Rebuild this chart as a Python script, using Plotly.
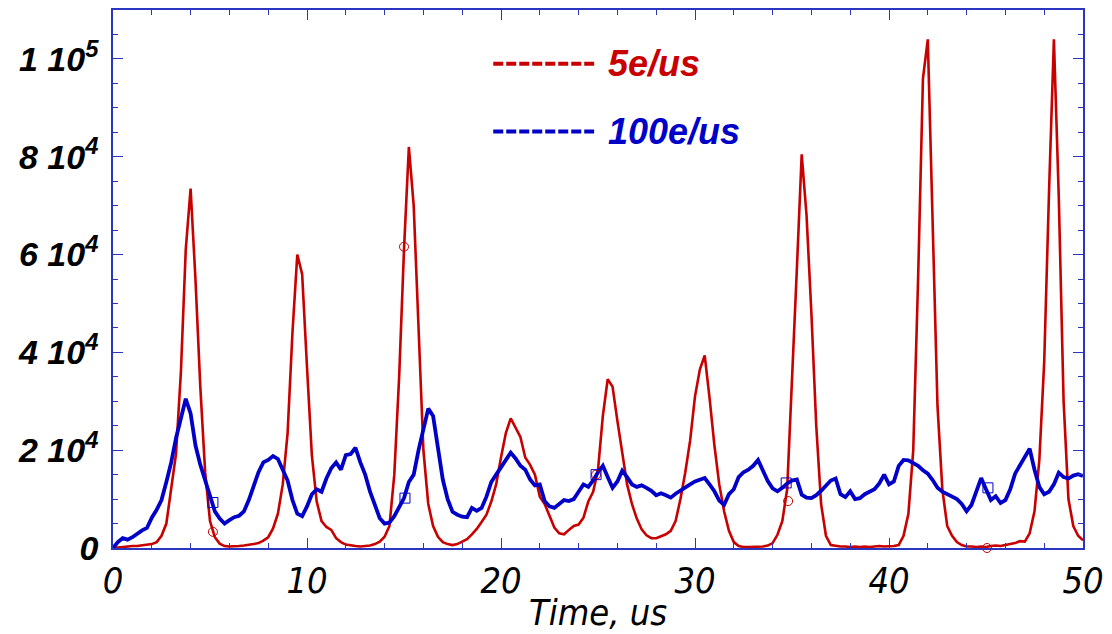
import plotly.graph_objects as go

# time grid (us), 0.25 us bins
time = [i * 0.25 for i in range(201)]

# 5e/us series, in units of 1000 counts
red_k = [
    0, 0.1, 0.3, 0.3,
    0.4, 0.4, 0.5, 0.6,
    0.8, 1.2, 2.5, 5.0,
    12.5, 19.3, 36, 61,
    73.5, 55, 33, 15.5,
    5.5, 2.2, 0.9, 0.4,
    0.3, 0.3, 0.4, 0.5,
    0.6, 0.8, 1.0, 1.5,
    2.2, 4.0, 7.0, 13,
    23.5, 44, 60, 56,
    37, 19, 9.5, 5.5,
    4.3, 3.7, 2.0, 1.2,
    0.7, 0.5, 0.4, 0.3,
    0.4, 0.5, 0.8, 1.3,
    2.3, 4.5, 15, 35,
    61, 82, 70, 45,
    20, 9, 4.5, 2.3,
    1.2, 0.8, 0.6, 0.8,
    1.3, 1.8, 2.8, 3.9,
    5.3, 6.8, 9.5, 13,
    18.5, 23.5, 26.5, 24.7,
    22.7, 18.5, 17, 15,
    10.5, 9, 6.5, 4.2,
    3.0, 2.8, 3.7, 4.5,
    4.8, 6.2, 9.5, 11.5,
    16, 27, 34.5, 33,
    26, 19, 13, 9,
    6, 3.8, 2.6, 2.0,
    2.0, 2.4, 2.8, 3.5,
    5.5, 10, 15.5, 22,
    31, 36.5, 39.4, 30.7,
    21, 13, 7.5, 3.5,
    1.2, 0.4, 0.2, 0.2,
    0.2, 0.2, 0.3, 0.5,
    1.0, 2.7, 5.5, 12,
    33, 57, 80.5, 68,
    48, 25, 9, 2.5,
    0.6, 0.4, 0.3, 0.3,
    0.2, 0.3, 0.2, 0.3,
    0.2, 0.3, 0.4, 0.3,
    0.3, 0.4, 0.6, 2.5,
    7, 20, 55, 96,
    104, 64, 29, 12,
    4.5, 2.5, 1.2, 0.6,
    0.3, 0.3, 0.2, 0.3,
    0.2, 0.4, 0.5, 0.4,
    0.6, 0.8, 1.0, 1.4,
    1.3, 3.0, 7.5, 18,
    38, 73, 104, 72,
    30, 10, 4.5, 2.5,
    1.6,
]

# 100e/us series, in units of 1000 counts
blue_k = [
    0, 1.2, 2.0, 1.7,
    2.2, 3.0, 3.6, 4.1,
    6.2, 7.8, 9.8, 13.5,
    17.5, 22.5, 26.5, 30.5,
    27.5, 21, 17, 14,
    11, 7.5, 6, 5,
    5.7, 6.3, 6.6, 7.5,
    9.8, 12.5, 15.5, 17.5,
    18, 18.8, 18.2, 16,
    13.8, 9.8, 7, 6.5,
    8.5, 11, 12, 11.5,
    14.2, 16.3, 17.5, 16,
    19, 19.2, 20.5, 17.5,
    15, 11.5, 8.5, 6.1,
    5, 5.2, 6.5, 8.5,
    10.2, 13.5, 15, 20,
    24, 28.5, 27, 20,
    14, 10, 7.4, 6.8,
    6.4, 6.3, 8.2, 7.6,
    8.2, 10.5, 13.5, 15,
    16.5, 18.3, 19.5, 18.3,
    16.8, 16, 14, 12.8,
    13, 9.6, 8.5, 8.2,
    9, 9.8, 9.6, 10,
    11.5, 13, 12.5, 13.8,
    15.5, 16.8, 14.5, 12.3,
    13.6, 15.8, 14.5, 13,
    12.5, 12.8, 12.3, 11.7,
    10.8, 11.2, 10.8, 10.3,
    11.1, 11.8, 12.5, 13,
    13.6, 13.9, 14.3, 13,
    11.6, 9.7, 8.8, 11,
    12, 14.5, 15.5, 16,
    16.8, 18, 15.6, 13.7,
    12.2, 11.6, 12.3, 13.2,
    13.8, 14, 10.9, 10.3,
    10.2, 10.8, 11.7, 12.7,
    13.8, 14.2, 11, 10.4,
    11.6, 10, 10.2, 11,
    11.4, 12, 13.2, 15,
    13, 13.6, 16.8, 18,
    17.9, 17.4, 16.8, 15.9,
    15.2, 13.9, 12.3, 11.5,
    11, 10.6, 10, 9,
    7.5, 8.8, 11.5, 14.3,
    12, 9.8, 10.6, 9.2,
    9.8, 12, 15.2, 17,
    18.5, 20.3, 16, 12.5,
    11, 11.5, 13, 15.4,
    14.5, 14.2, 14.8, 15.1,
    14.7,
]

# symbol markers
mark_red_t = [5.15, 15.0, 24.9, 34.8, 45.05]
mark_red_k = [3.3, 61.6, 15.0, 9.6, 0.0]
mark_blue_t = [5.15, 15.05, 24.9, 34.7, 45.1]
mark_blue_k = [9.3, 10.2, 15.0, 13.3, 12.3]

# axis ticks
x_ticks = [0, 10, 20, 30, 40, 50]
y_tickvals = [0, 20000, 40000, 60000, 80000, 100000]
y_ticktext = ["0", "2 10<sup>4</sup>", "4 10<sup>4</sup>", "6 10<sup>4</sup>",
              "8 10<sup>4</sup>", "1 10<sup>5</sup>"]
series_names = ["5e/us", "100e/us"]

RED = "#c80000"
BLUE = "#0000c8"
FRAME = "#2a35c0"
NARROW = "DejaVu Sans Condensed, Liberation Sans, sans-serif"

def counts(lst):
    return [v * 1000 for v in lst]

fig = go.Figure()
fig.add_trace(go.Scatter(x=time, y=counts(red_k), mode="lines",
                         line=dict(color=RED, width=2.6), name=series_names[0],
                         showlegend=False))
fig.add_trace(go.Scatter(x=time, y=counts(blue_k), mode="lines",
                         line=dict(color=BLUE, width=3.8), name=series_names[1],
                         showlegend=False))
fig.add_trace(go.Scatter(x=mark_red_t, y=counts(mark_red_k), mode="markers",
                         marker=dict(symbol="circle-open", size=9, color=RED,
                                     line=dict(width=1, color=RED)),
                         showlegend=False, cliponaxis=False))
fig.add_trace(go.Scatter(x=mark_blue_t, y=counts(mark_blue_k), mode="markers",
                         marker=dict(symbol="square-open", size=10, color=BLUE,
                                     line=dict(width=1, color=BLUE)),
                         showlegend=False, cliponaxis=False))

# legend drawn as dashed segments + labels
legend_rows = [(0.900, RED, series_names[0]), (0.774, BLUE, series_names[1])]
for ypos, col, label in legend_rows:
    fig.add_shape(type="line", xref="paper", yref="paper",
                  x0=0.392, x1=0.496, y0=ypos, y1=ypos,
                  line=dict(color=col, width=4, dash="10px,3px"))
    fig.add_annotation(xref="paper", yref="paper", x=0.508, y=ypos,
                       xanchor="left", yanchor="middle", showarrow=False,
                       text=label,
                       font=dict(family="Liberation Sans", size=36, color=col,
                                 weight="bold", style="italic"))

fig.update_xaxes(range=[0, 50], tickvals=x_ticks,
                 ticktext=[str(v) for v in x_ticks],
                 showline=True, linecolor=FRAME, linewidth=1.5, mirror="ticks",
                 ticks="inside", ticklen=10, tickcolor=FRAME, tickwidth=1.2,
                 minor=dict(dtick=2, ticks="inside", ticklen=5, tickcolor=FRAME, tickwidth=1.2),
                 showgrid=False, zeroline=False,
                 tickfont=dict(family=NARROW, size=36, color="black",
                               style="italic"),
                 title=dict(text="Time, us", standoff=0,
                            font=dict(family=NARROW, size=36,
                                      color="black", style="italic")))
fig.update_yaxes(range=[0, 110000], tickvals=y_tickvals, ticktext=y_ticktext,
                 showline=True, linecolor=FRAME, linewidth=1.5, mirror="ticks",
                 ticks="inside", ticklen=10, tickcolor=FRAME, tickwidth=1.2,
                 minor=dict(dtick=5000, ticks="inside", ticklen=5, tickcolor=FRAME, tickwidth=1.2),
                 showgrid=False, zeroline=False, ticklabelstandoff=6,
                 tickfont=dict(family="Liberation Sans", size=34, color="black",
                               weight="bold", style="italic"))

fig.update_layout(width=1112, height=634, autosize=False,
                  margin=dict(l=113, r=23, t=8, b=86),
                  paper_bgcolor="white", plot_bgcolor="white",
                  showlegend=False)

fig.write_html("out.html")
